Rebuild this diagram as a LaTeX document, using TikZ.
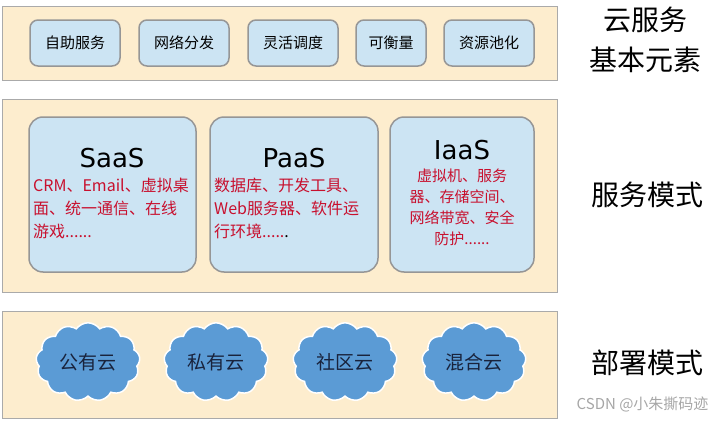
\documentclass[tikz,border=0pt]{standalone}
\usepackage{fontspec}
\usepackage{tikz}
\usetikzlibrary{shapes.symbols}
\newfontfamily\cjk{Noto Sans CJK SC}
\newfontfamily\latinf{DejaVu Sans}
\definecolor{bandfill}{RGB}{253,237,206}
\definecolor{bandline}{RGB}{170,170,170}
\definecolor{boxfill}{RGB}{204,228,243}
\definecolor{boxline}{RGB}{150,150,150}
\definecolor{redtext}{RGB}{200,16,46}
\definecolor{cloudfill}{RGB}{91,155,213}
\definecolor{cloudtext}{RGB}{25,35,60}

\tikzset{
  band/.style={draw=bandline, fill=bandfill, line width=1pt},
  elem/.style={draw=boxline, fill=boxfill, line width=1.5pt, rounded corners=8pt,
    minimum height=46pt, font=\cjk\fontsize{15}{18}\selectfont},
  modebox/.style={draw=boxline, fill=boxfill, line width=1.5pt, rounded corners=14pt},
  title/.style={font=\latinf\fontsize{26}{28}\selectfont},
  detail/.style={text=redtext, font=\cjk\fontsize{16}{23}\selectfont, inner sep=0pt},
  puff/.style={cloud, cloud puffs=13, cloud puff arc=110, aspect=1.3, draw=white,
    line width=1.5pt, fill=cloudfill, minimum width=104pt, minimum height=78pt,
    text=cloudtext, font=\cjk\fontsize{19}{22}\selectfont},
  side/.style={font=\cjk\fontsize{28}{40}\selectfont, align=center}
}

\begin{document}
\begin{tikzpicture}[x=1pt, y=-1pt]
\useasboundingbox (0,0) rectangle (720,423);
% three bands
\draw [band] (2,6) rectangle (557,80);
\draw [band] (2,99) rectangle (557,292);
\draw [band] (2,311) rectangle (557,418);
% basic elements
\node [elem, minimum width=90pt] (self) at (75,43) {自助服务};
\node [elem, minimum width=90pt] (net) at (184,43) {网络分发};
\node [elem, minimum width=90pt] (sched) at (293,43) {灵活调度};
\node [elem, minimum width=70pt] (meas) at (391,43) {可衡量};
\node [elem, minimum width=90pt] (pool) at (489,43) {资源池化};
% service models
\draw [modebox] (29,117) rectangle (196,272);
\draw [modebox] (210,117) rectangle (378,272);
\draw [modebox] (390,117) rectangle (534,272);
\node [title] (saas) at (112,158) {SaaS};
\node [title] (paas) at (294,158) {PaaS};
\node [title] (iaas) at (462,150) {IaaS};
\node [detail, align=left, anchor=north west] (saastext) at (33,178)
  {CRM、Email、虚拟桌\\面、统一通信、在线\\游戏......};
\node [detail, align=left, anchor=north west] (paastext) at (214,178)
  {数据库、开发工具、\\Web服务器、软件运\\行环境.....\textcolor{black}{.}};
\node [detail, align=center, anchor=north, font=\cjk\fontsize{15}{21}\selectfont] (iaastext) at (462,169)
  {虚拟机、服务\\器、存储空间、\\网络带宽、安全\\防护......};
% deployment models
\node [puff] (public) at (88,362) {公有云};
\node [puff] (private) at (216,362) {私有云};
\node [puff] (community) at (345,362) {社区云};
\node [puff] (hybrid) at (474,362) {混合云};
% labels on the right
\node [side] (elements) at (645,40) {云服务\\基本元素};
\node [side] (modes) at (647,195) {服务模式};
\node [side] (deploy) at (647,363) {部署模式};
\node [text=gray!70, font=\cjk\fontsize{15}{18}\selectfont, anchor=east] (mark) at (712,404) {CSDN @小朱撕码迹};
\end{tikzpicture}
\end{document}
